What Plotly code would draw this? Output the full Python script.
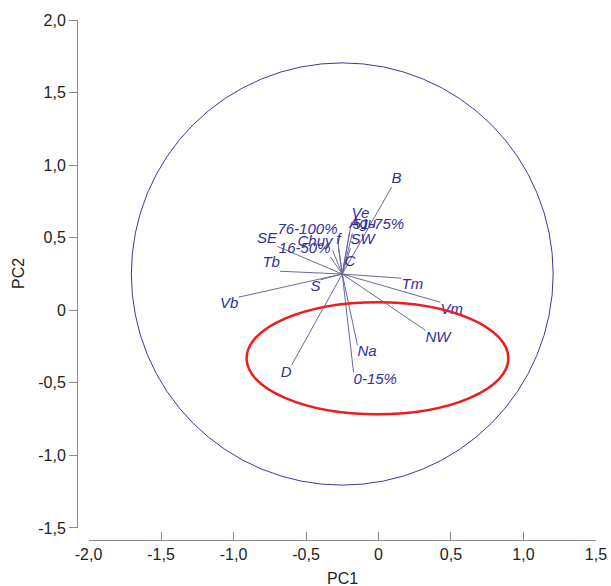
import plotly.graph_objects as go

# Loadings biplot: variable vectors drawn from a common origin
ORIGIN_X = -0.25
ORIGIN_Y = 0.25
CIRCLE_R = 1.455

variables = ["B", "Ve", "Agu", "51-75%", "SW", "f", "Chuy", "76-100%", "16-50%",
             "SE", "Tb", "C", "S", "Vb", "Tm", "Vm", "NW", "Na", "0-15%", "D"]
pc1 = [0.09, -0.186, -0.20, -0.18, -0.193, -0.276, -0.317, -0.283, -0.331,
       -0.70, -0.68, -0.234, -0.40, -0.966, 0.159, 0.428, 0.324, -0.145, -0.172, -0.60]
pc2 = [0.848, 0.607, 0.538, 0.531, 0.428, 0.428, 0.414, 0.497, 0.366,
       0.441, 0.269, 0.331, 0.21, 0.09, 0.221, 0.055, -0.138, -0.241, -0.428, -0.379]

# Highlighted group (ellipse) in PC space
ELL_CX, ELL_CY = -0.007, -0.331
ELL_RX, ELL_RY = 0.903, 0.386

tick_vals_x = [-2.0, -1.5, -1.0, -0.5, 0.0, 0.5, 1.0, 1.5]
tick_text_x = ["-2,0", "-1,5", "-1,0", "-0,5", "0", "0,5", "1,0", "1,5"]
tick_vals_y = [-1.5, -1.0, -0.5, 0.0, 0.5, 1.0, 1.5, 2.0]
tick_text_y = ["-1,5", "-1,0", "-0,5", "0", "0,5", "1,0", "1,5", "2,0"]

label_pos = {
    "B": "top right", "Ve": "top right", "Agu": "top right", "51-75%": "top right",
    "SW": "top right", "f": "top center", "Chuy": "top left", "76-100%": "top left",
    "16-50%": "top left", "SE": "top left", "Tb": "top left", "C": "middle right",
    "S": "bottom left", "Vb": "bottom left", "Tm": "bottom right", "Vm": "bottom right",
    "NW": "bottom right", "Na": "bottom right", "0-15%": "bottom right", "D": "bottom left",
}

LINE_COL = "#6a6a9e"
TEXT_COL = "#2f2f9c"
AXIS_COL = "#8a8a8a"
FONT = "Liberation Sans, Arial"

seg_x, seg_y = [], []
for x, y in zip(pc1, pc2):
    seg_x += [ORIGIN_X, x, None]
    seg_y += [ORIGIN_Y, y, None]

fig = go.Figure()
fig.add_trace(go.Scatter(x=seg_x, y=seg_y, mode="lines",
                         line=dict(color=LINE_COL, width=1), hoverinfo="skip",
                         showlegend=False))
fig.add_trace(go.Scatter(x=pc1, y=pc2, mode="text", text=variables,
                         textposition=[label_pos[v] for v in variables],
                         textfont=dict(family=FONT, size=15,
                                       color=TEXT_COL, style="italic"),
                         showlegend=False))

fig.add_shape(type="circle", xref="x", yref="y",
              x0=ORIGIN_X - CIRCLE_R, x1=ORIGIN_X + CIRCLE_R,
              y0=ORIGIN_Y - CIRCLE_R, y1=ORIGIN_Y + CIRCLE_R,
              line=dict(color="#3a3a9a", width=1), layer="below")
fig.add_shape(type="circle", xref="x", yref="y",
              x0=ELL_CX - ELL_RX, x1=ELL_CX + ELL_RX,
              y0=ELL_CY - ELL_RY, y1=ELL_CY + ELL_RY,
              line=dict(color="#ee1c1c", width=2.5))

W, H = 611, 586
ml, mr, mt, mb = 77, 15, 20, 46
pw, ph = W - ml - mr, H - mt - mb
x_dom0 = 11.5 / pw
y_dom0 = 12.0 / ph

fig.update_layout(
    width=W, height=H,
    margin=dict(l=ml, r=mr, t=mt, b=mb, pad=0, autoexpand=False),
    paper_bgcolor="white", plot_bgcolor="white",
    font=dict(family=FONT, size=16, color="#222222"),
    xaxis=dict(range=[-2.0005, 1.5005], domain=[x_dom0, 1.0],
               anchor="free", position=0.0, automargin=False,
               tickvals=tick_vals_x, ticktext=tick_text_x,
               showline=True, linecolor=AXIS_COL, linewidth=1,
               ticks="inside", ticklen=8, tickcolor=AXIS_COL,
               showgrid=False, zeroline=False),
    yaxis=dict(range=[-1.5005, 2.0005], domain=[y_dom0, 1.0],
               anchor="free", position=0.0, automargin=False,
               tickvals=tick_vals_y, ticktext=tick_text_y,
               showline=True, linecolor=AXIS_COL, linewidth=1,
               ticks="outside", ticklen=8, tickcolor=AXIS_COL,
               showgrid=False, zeroline=False),
    annotations=[
        dict(text="PC1", xref="paper", yref="paper", x=(x_dom0 + 1.0) / 2, y=0,
             xanchor="center", yanchor="top", yshift=-28, showarrow=False,
             font=dict(family=FONT, size=16, color="#222222")),
        dict(text="PC2", xref="paper", yref="paper", x=0, y=(y_dom0 + 1.0) / 2,
             xanchor="center", yanchor="middle", xshift=-59, textangle=-90,
             showarrow=False, font=dict(family=FONT, size=16, color="#222222")),
    ],
)

fig.write_html("out.html")
